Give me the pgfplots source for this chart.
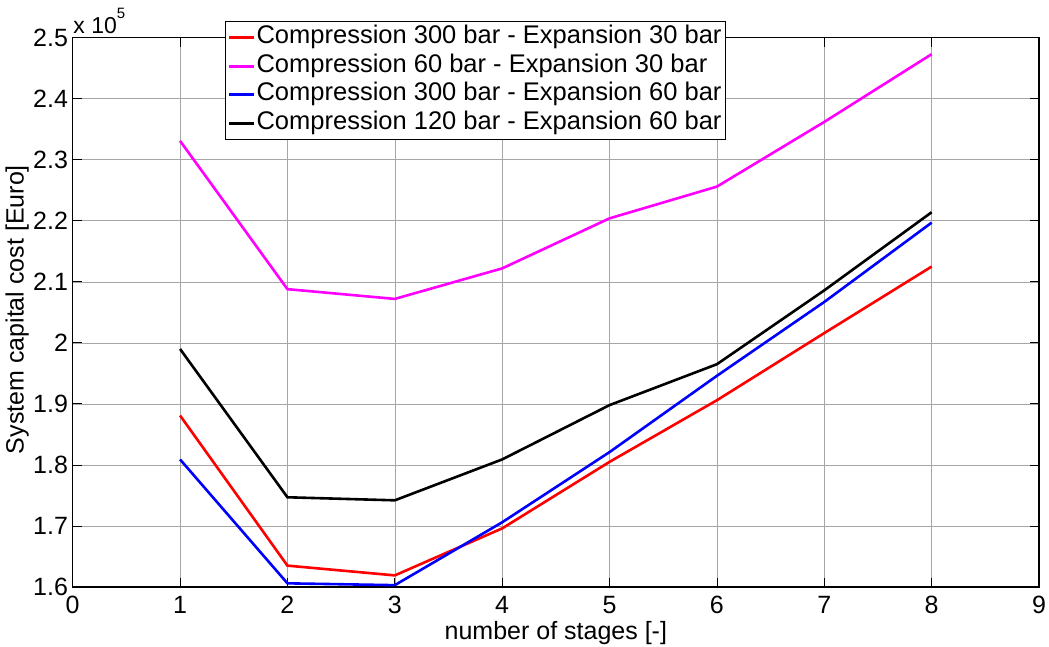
\documentclass[border=0pt]{standalone}
\usepackage{fontspec}
\setmainfont{Liberation Sans}
\usepackage{pgfplots}
\pgfplotsset{compat=1.18}
\definecolor{cred}{RGB}{255,0,0}
\definecolor{cmag}{RGB}{255,0,255}
\definecolor{cblue}{RGB}{0,0,255}
\definecolor{cblack}{RGB}{0,0,0}
\begin{document}
\fontsize{25}{30}\selectfont
\begin{tikzpicture}
\begin{axis}[
  name=ax, scale only axis, width=966.3pt, height=549.3pt,
  xmin=0, xmax=9, ymin=1.6, ymax=2.5,
  xtick={0,1,2,3,4,5,6,7,8,9},
  xticklabels={0,1,2,3,4,5,6,7,8,9},
  ytick={1.6,1.7,1.8,1.9,2,2.1,2.2,2.3,2.4,2.5},
  yticklabels={1.6,1.7,1.8,1.9,2,2.1,2.2,2.3,2.4,2.5},
  tick pos=both, tick align=inside,
  major tick length=9pt,
  every tick/.style={black, line width=0.8pt},
  axis line style={black, line width=1.2pt},
  grid=major,
  major grid style={gray!70, line width=0.6pt},
  tick label style={font=\fontsize{25}{30}\selectfont},
  yticklabel style={inner sep=0pt, xshift=-4.5pt},
  xticklabel style={inner sep=0pt, yshift=-9pt},
  xlabel={number of stages [-]},
  ylabel={System capital cost [Euro]},
  label style={font=\fontsize{25}{30}\selectfont},
  xlabel style={at={(axis description cs:0.5,-0.0965)}, anchor=base, inner sep=0pt},
  ylabel style={at={(axis description cs:-0.0452,0.505)}, anchor=south, rotate=0, inner sep=0pt},
  legend style={at={(axis description cs:0.1576,1.0304)}, anchor=north west,
    draw=black, line width=1pt, fill=white, inner sep=2pt,
    font=\fontsize{25.5}{30}\selectfont,
    nodes={inner sep=1.5pt, text height=19pt, text depth=6.5pt},
    /tikz/every even column/.append style={column sep=1.5pt}},
  legend cell align=left,
  legend image code/.code={\draw[#1, line width=2.6pt] (0pt,0pt) -- (25pt,0pt);},
]
\addplot[cred, line width=2.6pt] coordinates {(1,1.881) (2,1.635) (3,1.619) (4,1.696) (5,1.805) (6,1.906) (7,2.016) (8,2.125)};
\addlegendentry{Compression 300 bar - Expansion 30 bar}
\addplot[cmag, line width=2.6pt] coordinates {(1,2.331) (2,2.088) (3,2.072) (4,2.122) (5,2.204) (6,2.256) (7,2.362) (8,2.473)};
\addlegendentry{Compression 60 bar - Expansion 30 bar}
\addplot[cblue, line width=2.6pt] coordinates {(1,1.809) (2,1.606) (3,1.603) (4,1.706) (5,1.821) (6,1.946) (7,2.067) (8,2.197)};
\addlegendentry{Compression 300 bar - Expansion 60 bar}
\addplot[cblack, line width=2.6pt] coordinates {(1,1.990) (2,1.747) (3,1.742) (4,1.809) (5,1.898) (6,1.965) (7,2.086) (8,2.214)};
\addlegendentry{Compression 120 bar - Expansion 60 bar}
\end{axis}
\node[anchor=base west, inner sep=0pt, font=\fontsize{23}{26}\selectfont] at ([xshift=0.5pt,yshift=4.5pt]ax.north west) {x 10\raisebox{15pt}{\fontsize{15}{17}\selectfont 5}};
\pgfresetboundingbox
\path[use as bounding box] ([xshift=-72.7pt,yshift=-60pt]ax.south west) rectangle ([xshift=10pt,yshift=37.7pt]ax.north east);
\end{tikzpicture}
\end{document}
